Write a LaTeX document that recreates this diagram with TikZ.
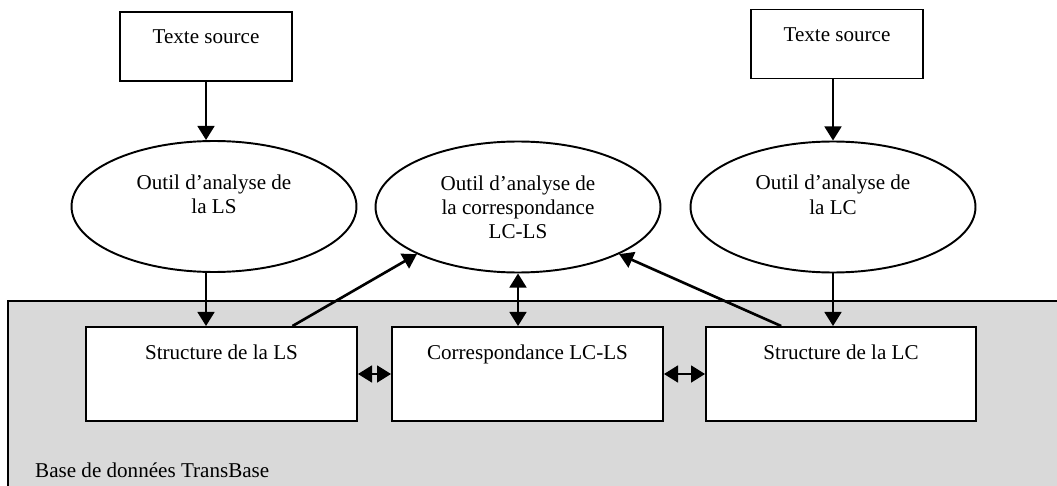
\documentclass[tikz,border=0pt]{standalone}
\usepackage{fontspec}
\setmainfont{Liberation Serif}
\usepackage{tikz}
\usetikzlibrary{shapes.geometric, arrows.meta, positioning, calc}
\definecolor{cBase}{RGB}{217,217,217}
\tikzset{
	txt/.style={font=\fontsize{12}{13.7}\selectfont},
	srcbox/.style={rectangle, draw=black, line width=1.1pt, fill=white, txt, inner sep=0pt, minimum width=3.44cm, text height=0.64cm, text depth=0.74cm},
	structbox/.style={rectangle, draw=black, line width=1.1pt, fill=white, txt, inner sep=0pt, minimum width=5.42cm, text height=0.64cm, text depth=1.24cm},
	tool/.style={ellipse, draw=black, line width=1.1pt, fill=white, txt, align=center, inner sep=0pt, minimum width=5.7cm, minimum height=2.62cm},
	basezone/.style={draw=black, line width=1.1pt, fill=cBase},
	arr/.style={-{Triangle[length=8pt, width=9.5pt]}, line width=1.5pt},
	biarr/.style={{Triangle[length=8pt, width=9.5pt]}-{Triangle[length=8pt, width=9.5pt]}, line width=1.5pt},
}
\begin{document}
\begin{tikzpicture}[x=0.02cm, y=-0.02cm]
	\useasboundingbox (0,0) rectangle (1057,486);
	\clip (0,0) rectangle (1057,486);
	% base de donnees
	\draw[basezone] (8,301) rectangle (1075,500);
	\node[txt, anchor=base west] (base) at (29,477) {Base de données TransBase};

	\node[srcbox] (srcLS) at (206,46.5) {Texte source};
	\node[srcbox] (srcLC) at (837,44) {Texte source};

	\node[tool, text depth=14pt] (toolLS) at (214,206.5) {Outil d'analyse de\\la LS};
	\node[tool] (toolCorr) at (518,207) {Outil d'analyse de\\la correspondance\\LC-LS};
	\node[tool, text depth=14pt] (toolLC) at (833,207) {Outil d'analyse de\\la LC};

	\node[structbox] (structLS) at (221.5,374) {Structure de la LS};
	\node[structbox] (corresp) at (527.5,374) {Correspondance LC-LS};
	\node[structbox, minimum width=5.4cm] (structLC) at (841,374) {Structure de la LC};

	\draw[arr] (srcLS.south) -- (srcLS.south |- toolLS.north);
	\draw[arr] (srcLC.south -| toolLC.north) -- (toolLC.north);
	\draw[arr] (toolLS.south -| srcLS.south) -- (srcLS.south |- structLS.north);
	\draw[arr] (toolLC.south) -- (toolLC.south |- structLC.north);
	\draw[arr] ($(structLS.north west)!0.76!(structLS.north east)$) -- (toolCorr.205);
	\draw[arr] ($(structLC.north west)!0.28!(structLC.north east)$) -- (toolCorr.335);
	\draw[biarr] (toolCorr.south) -- (toolCorr.south |- corresp.north);
	\draw[biarr] (structLS.east) -- (corresp.west);
	\draw[biarr] (corresp.east) -- (structLC.west);
\end{tikzpicture}
\end{document}
